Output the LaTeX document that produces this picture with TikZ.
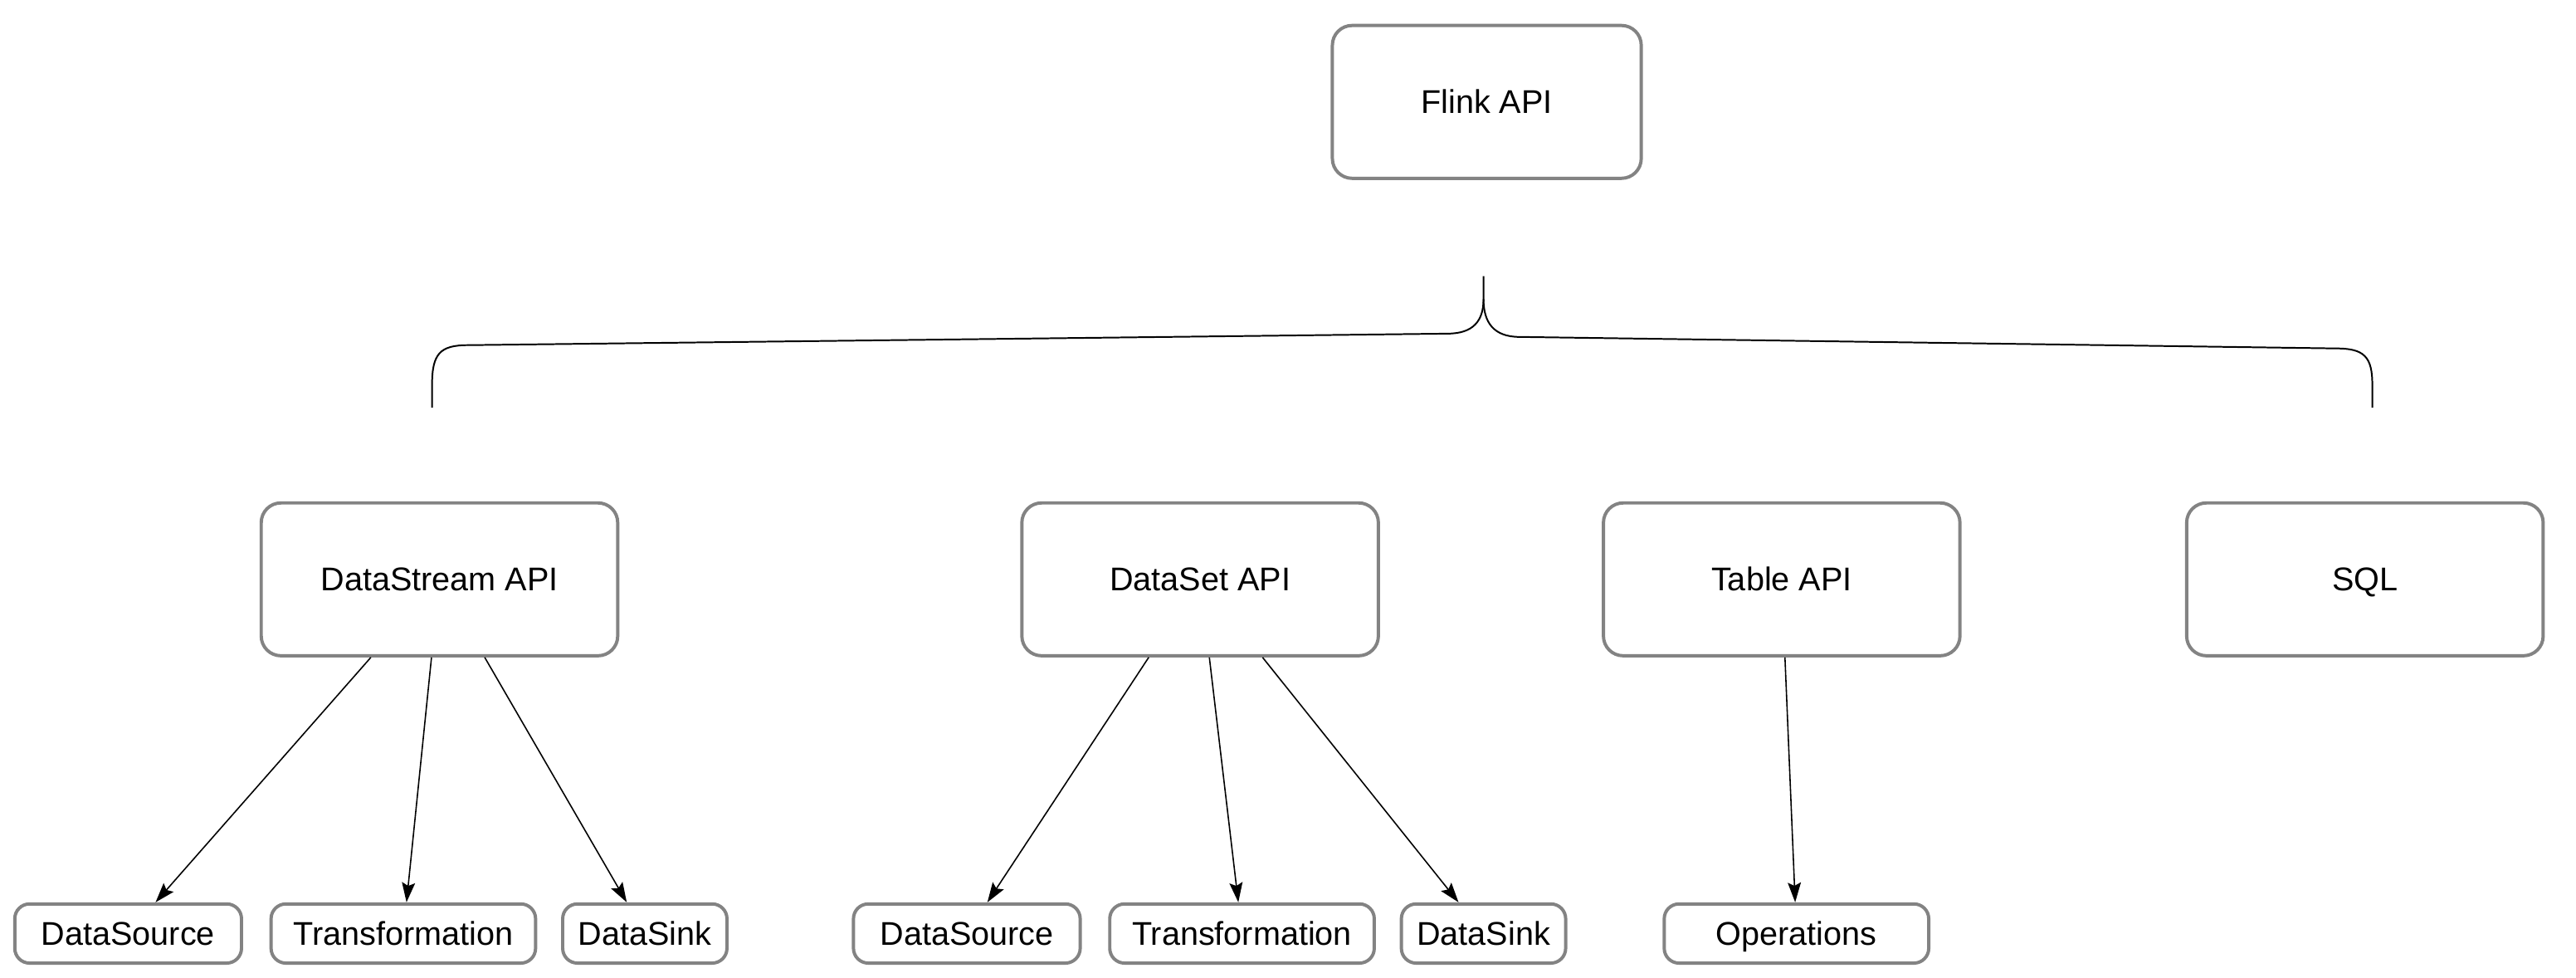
\documentclass[tikz,border=0pt]{standalone}
\usepackage{fontspec}
\setmainfont{Liberation Sans}
\usepackage{tikz}
\usetikzlibrary{arrows.meta}
\definecolor{boxgray}{HTML}{838383}
\tikzset{
	api/.style={draw=boxgray, line width=1pt, rounded corners=6pt, minimum width=108.5pt, minimum height=46.5pt, text height=8pt, text depth=1pt, font=\fontsize{10}{12}\selectfont},
	part/.style={draw=boxgray, line width=1pt, rounded corners=4.5pt, minimum height=18pt, inner sep=0pt, text height=8pt, text depth=1pt, font=\fontsize{10}{12}\selectfont},
	arr/.style={-{Stealth[length=6pt,width=4pt,inset=1pt]}, line width=0.4pt},
	brace/.style={line width=0.5pt}
}

\begin{document}
\begin{tikzpicture}[x=0.5pt, y=-0.5pt]
		\useasboundingbox (0,0) rectangle (1568,595);
		\node(flink)[api, minimum width=94pt] at (905,62){Flink API};
		\node(dstream)[api] at (267.5,352.5){DataStream API};
		\node(dset)[api] at (730.5,352.5){DataSet API};
		\node(table)[api] at (1084.5,352.5){Table API};
		\node(sql)[api] at (1439.5,352.5){SQL};
		\node(src1)[part, minimum width=69pt] at (78,568){DataSource};
		\node(tr1)[part, minimum width=80.5pt] at (245.5,568){Transformation};
		\node(sink1)[part, minimum width=50pt] at (392.5,568){DataSink};
		\node(src2)[part, minimum width=69pt] at (588.5,568){DataSource};
		\node(tr2)[part, minimum width=80.5pt] at (756,568){Transformation};
		\node(sink2)[part, minimum width=50pt] at (903,568){DataSink};
		\node(ops)[part, minimum width=80.5pt] at (1093.5,568){Operations};
		% brace under Flink API
		\coordinate(tip) at (903,168);
		\coordinate(cusp) at (903,182);
		\coordinate(legl) at (263,248);
		\coordinate(legr) at (1444,248);
		\draw[brace](legl) -- (263,234) .. controls (263,215) and (268,210) .. (285,210) -- (881,203) .. controls (897,203) and (903,195) .. (cusp) -- (tip);
		\draw[brace](cusp) .. controls (903,196) and (909,205) .. (925,205) -- (1422,212) .. controls (1439,212) and (1444,217) .. (1444,234) -- (legr);
		\draw[arr](dstream) -- (src1);
		\draw[arr](dstream) -- (tr1);
		\draw[arr](dstream) -- (sink1);
		\draw[arr](dset) -- (src2);
		\draw[arr](dset) -- (tr2);
		\draw[arr](dset) -- (sink2);
		\draw[arr](table) -- (ops);
	\end{tikzpicture}
\end{document}
